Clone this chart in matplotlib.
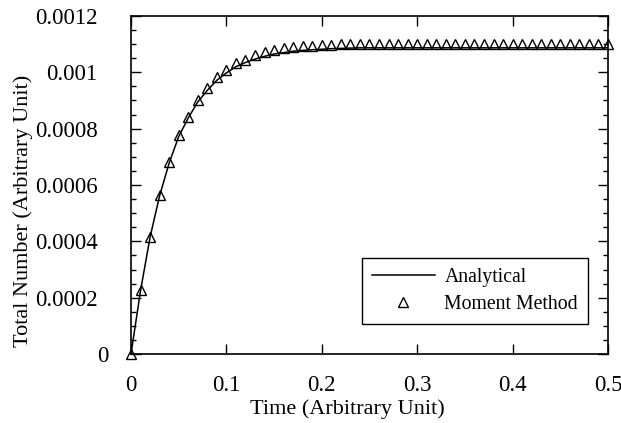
import matplotlib
matplotlib.use('Agg')
import matplotlib.pyplot as plt
import matplotlib.transforms as mtransforms
from matplotlib.ticker import MultipleLocator

plt.rcParams['font.family'] = ['Liberation Serif', 'DejaVu Serif']

# Time grid of the points (Arbitrary Unit)
time = [0.00, 0.01, 0.02, 0.03, 0.04, 0.05, 0.06, 0.07, 0.08, 0.09,
        0.10, 0.11, 0.12, 0.13, 0.14, 0.15, 0.16, 0.17, 0.18, 0.19,
        0.20, 0.21, 0.22, 0.23, 0.24, 0.25, 0.26, 0.27, 0.28, 0.29,
        0.30, 0.31, 0.32, 0.33, 0.34, 0.35, 0.36, 0.37, 0.38, 0.39,
        0.40, 0.41, 0.42, 0.43, 0.44, 0.45, 0.46, 0.47, 0.48, 0.49,
        0.50]

# Analytical solution
analytical = [0, 0.000225, 0.000415, 0.000562, 0.000678, 0.000772, 0.000838,
              0.000895, 0.000936, 0.000972, 0.000998, 0.00102, 0.001035,
              0.001047, 0.001057, 0.001065, 0.00107, 0.001075, 0.001078,
              0.00108, 0.001082, 0.001084, 0.001085, 0.001086, 0.001087,
              0.001087, 0.001087, 0.001087, 0.001087, 0.001087, 0.001087,
              0.001087, 0.001087, 0.001087, 0.001087, 0.001087, 0.001087,
              0.001087, 0.001087, 0.001087, 0.001087, 0.001087, 0.001087,
              0.001087, 0.001087, 0.001087, 0.001087, 0.001087, 0.001087,
              0.001087, 0.001087]

# Moment method (triangles)
moment = [0, 0.000227, 0.000417, 0.000565, 0.000682, 0.000778, 0.000843,
          0.000902, 0.000944, 0.000982, 0.001009, 0.001033, 0.001044,
          0.00106, 0.001072, 0.00108, 0.001085, 0.00109, 0.001093,
          0.001095, 0.001097, 0.001098, 0.0011, 0.0011, 0.0011, 0.0011,
          0.0011, 0.0011, 0.0011, 0.0011, 0.0011, 0.0011, 0.0011, 0.0011,
          0.0011, 0.0011, 0.0011, 0.0011, 0.0011, 0.0011, 0.0011, 0.0011,
          0.0011, 0.0011, 0.0011, 0.0011, 0.0011, 0.0011, 0.0011, 0.0011,
          0.0011]

x_ticks = [0, 0.1, 0.2, 0.3, 0.4, 0.5]
x_tick_labels = ['0', '0.1', '0.2', '0.3', '0.4', '0.5']
y_ticks = [0, 0.0002, 0.0004, 0.0006, 0.0008, 0.001, 0.0012]
y_tick_labels = ['0', '0.0002', '0.0004', '0.0006', '0.0008', '0.001', '0.0012']

fig = plt.figure(figsize=(6.21, 4.23), dpi=100)
ax = fig.add_axes([131 / 621, 1 - 354 / 423, 477 / 621, 338 / 423])

ax.plot(time, analytical, color='black', linewidth=1.1, label='Analytical')
ax.plot(time, moment, linestyle='none', marker='^', markersize=7.5,
        markerfacecolor='none', markeredgecolor='black', markeredgewidth=1.0,
        label='Moment Method', clip_on=False)

ax.set_xlim(0, 0.5)
ax.set_ylim(0, 0.0012)
ax.set_xticks(x_ticks)
ax.set_xticklabels(x_tick_labels)
ax.set_yticks(y_ticks)
ax.set_yticklabels(y_tick_labels)
ax.yaxis.set_minor_locator(MultipleLocator(0.00005))

ax.tick_params(axis='both', which='both', direction='in', top=True, right=True,
               labelsize=16.5, width=1)
ax.tick_params(axis='x', which='major', length=7, pad=15)
ax.tick_params(axis='y', which='major', length=7, pad=24)
ax.tick_params(axis='y', which='minor', length=3.5)
for s in ax.spines.values():
    s.set_linewidth(1.2)

# the "0" y label sits closer to the axis in the original
lab0 = ax.get_yticklabels()[0]
lab0.set_transform(lab0.get_transform() +
                   mtransforms.ScaledTranslation(11 / 100, 0, fig.dpi_scale_trans))

ax.set_xlabel('Time (Arbitrary Unit)', fontsize=16)
ax.xaxis.set_label_coords(0.453, -0.135)
ax.set_ylabel('Total Number (Arbitrary Unit)', fontsize=16)
ax.yaxis.set_label_coords(-0.205, 0.423)

leg = ax.legend(loc='lower right', bbox_to_anchor=(0.958, 0.089),
                borderaxespad=0, fontsize=14.2, fancybox=False,
                edgecolor='black', handlelength=3.2, handletextpad=0.5,
                labelspacing=0.42, borderpad=0.5, framealpha=1)
leg.get_frame().set_linewidth(1)

fig.savefig('out.png', dpi=100)
